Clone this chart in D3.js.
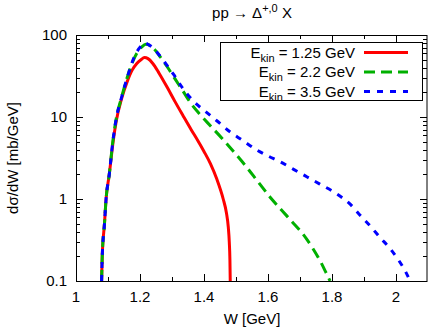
<!DOCTYPE html>
<html>
<head>
<meta charset="utf-8">
<script src="https://cdn.jsdelivr.net/npm/d3@7"></script>
<style>
  body { margin: 0; background: #fff; }
  text { font-family: "Liberation Sans", Arial, sans-serif; fill: #000; }
</style>
</head>
<body>
<div id="chart"></div>
<script>
// data ---------------------------------------------------------------------------------
var wRed   = [1.080,1.082,1.089,1.094,1.104,1.116,1.126,1.143,1.160,1.175,1.190,1.203,1.214,1.225,1.240,1.260,1.285,1.309,1.335,1.360,1.380,1.400,1.420,1.440,1.460,1.470,1.476,1.479,1.481,1.482];
var sRed   = [0.1,0.2,0.5,1.0,2.0,5,9,17,27,37,45,50,53,51.5,45,34,23,15.5,10.3,7.0,5.2,3.8,2.7,1.75,1.0,0.68,0.45,0.3,0.18,0.1];

var wGreen = [1.080,1.082,1.089,1.094,1.104,1.115,1.125,1.143,1.164,1.175,1.190,1.205,1.218,1.230,1.245,1.265,1.285,1.310,1.335,1.360,1.385,1.410,1.460,1.500,1.533,1.570,1.606,1.640,1.675,1.710,1.740,1.765,1.782,1.794];
var sGreen = [0.1,0.2,0.5,1.0,2.0,5,9.2,17.7,34,45,60,71,77,75,67,53,41,29,20.5,14.5,11,8.6,5.3,3.5,2.45,1.6,1.06,0.75,0.53,0.37,0.25,0.17,0.125,0.1];

var wBlue  = [1.080,1.082,1.089,1.094,1.104,1.115,1.125,1.143,1.164,1.174,1.190,1.203,1.214,1.225,1.240,1.260,1.280,1.305,1.335,1.367,1.408,1.440,1.481,1.520,1.565,1.600,1.6375,1.680,1.721,1.762,1.804,1.830,1.856,1.887,1.919,1.950,1.981,2.008,2.030,2.044];
var sBlue  = [0.1,0.2,0.5,1.0,2.0,5,9.2,17.7,34,45,62,73,80,77,70,57,45,33,22,15.6,11.4,9.0,6.6,5.2,3.96,3.35,2.85,2.3,1.87,1.52,1.23,1.05,0.87,0.64,0.47,0.34,0.25,0.18,0.13,0.1];

var seriesNames = ["1.25 GeV", "2.2 GeV", "3.5 GeV"];
var xTickLabels = [1, 1.2, 1.4, 1.6, 1.8, 2];
var yTickLabels = [0.1, 1, 10, 100];

// layout ----------------------------------------------------------------------------------
var width = 429, height = 332;
var pl = 76, pr = 428, pt = 35, pb = 281;

var svg = d3.select("#chart").append("svg")
  .attr("width", width)
  .attr("height", height);

var x = d3.scaleLinear().domain([1, 2.1]).range([pl, pr]);
var y = d3.scaleLog().domain([0.1, 100]).range([pb, pt]);

svg.append("clipPath").attr("id", "clip")
  .append("rect")
  .attr("x", pl).attr("y", pt)
  .attr("width", pr - pl).attr("height", pb - pt);

// ticks (inward, mirrored like gnuplot)
var ticks = svg.append("g").attr("stroke", "#000").attr("stroke-width", 1);

var xMinor = d3.range(11).map(function(i){ return 1 + i * 0.1; });
xMinor.forEach(function(v){
  var major = xTickLabels.some(function(t){ return Math.abs(t - v) < 1e-6; });
  var len = major ? 7 : 4;
  var px = Math.round(x(v)) + 0.5;
  ticks.append("line").attr("x1", px).attr("x2", px).attr("y1", pb).attr("y2", pb - len);
  ticks.append("line").attr("x1", px).attr("x2", px).attr("y1", pt).attr("y2", pt + len);
});

var yAll = [];
[0.1, 1, 10].forEach(function(d){
  for (var k = 1; k <= 9; k++) yAll.push(d * k);
});
yAll.push(100);
yAll.forEach(function(v){
  var major = yTickLabels.some(function(t){ return Math.abs(t - v) < 1e-9; });
  var len = major ? 7 : 4;
  var py = Math.round(y(v)) + 0.5;
  ticks.append("line").attr("x1", pl).attr("x2", pl + len).attr("y1", py).attr("y2", py);
  ticks.append("line").attr("x1", pr - 1).attr("x2", pr - 1 - len).attr("y1", py).attr("y2", py);
});

// tick labels
svg.append("g").selectAll("text")
  .data(xTickLabels)
  .enter().append("text")
    .attr("x", function(d){ return x(d); })
    .attr("y", 302)
    .attr("text-anchor", "middle")
    .attr("font-size", "15px")
    .text(function(d){ return d; });

svg.append("g").selectAll("text")
  .data(yTickLabels)
  .enter().append("text")
    .attr("x", 67)
    .attr("y", function(d){ return y(d); })
    .attr("dy", "0.36em")
    .attr("text-anchor", "end")
    .attr("font-size", "15px")
    .text(function(d){ return d; });

// axis titles
svg.append("text")
  .attr("x", (pl + pr) / 2)
  .attr("y", 324)
  .attr("text-anchor", "middle")
  .attr("font-size", "15px")
  .text("W [GeV]");

svg.append("text")
  .attr("transform", "translate(18," + ((pt + pb) / 2) + ") rotate(-90)")
  .attr("text-anchor", "middle")
  .attr("font-size", "15px")
  .text("dσ/dW [mb/GeV]");

var title = svg.append("text")
  .attr("x", (pl + pr) / 2)
  .attr("y", 18)
  .attr("text-anchor", "middle")
  .attr("font-size", "15px");
title.append("tspan").text("pp → Δ");
title.append("tspan").attr("font-size", "11px").attr("dy", -6).text("+,0");
title.append("tspan").attr("dy", 6).text(" X");

// curves
var styles = [
  {w: wRed,   s: sRed,   color: "#ff0000", dash: null},
  {w: wGreen, s: sGreen, color: "#00b000", dash: "11,6"},
  {w: wBlue,  s: sBlue,  color: "#0000ff", dash: "6,7"}
];

var line = d3.line()
  .x(function(d){ return x(d[0]); })
  .y(function(d){ return y(d[1]); })
  .curve(d3.curveMonotoneX);

var plot = svg.append("g").attr("clip-path", "url(#clip)");
styles.forEach(function(st){
  var pts = st.w.map(function(w, i){ return [w, st.s[i]]; });
  plot.append("path")
    .datum(pts)
    .attr("d", line)
    .attr("fill", "none")
    .attr("stroke", st.color)
    .attr("stroke-width", 3)
    .attr("stroke-dasharray", st.dash);
});

// frame
svg.append("rect")
  .attr("x", pl + 0.5).attr("y", pt + 0.5)
  .attr("width", pr - pl - 1.5).attr("height", pb - pt)
  .attr("fill", "none")
  .attr("stroke", "#000")
  .attr("stroke-width", 1);

// legend
var lg = svg.append("g");
lg.append("rect")
  .attr("x", 220.5).attr("y", 42.5)
  .attr("width", 202).attr("height", 58)
  .attr("fill", "#fff")
  .attr("stroke", "#000");

styles.forEach(function(st, i){
  var cy = 52.5 + i * 19.5;
  var t = lg.append("text")
    .attr("x", 355)
    .attr("y", cy + 5)
    .attr("text-anchor", "end")
    .attr("font-size", "15px");
  t.append("tspan").text("E");
  t.append("tspan").attr("font-size", "11px").attr("dy", 4).text("kin");
  t.append("tspan").attr("dy", -4).text(" = " + seriesNames[i]);

  lg.append("line")
    .attr("x1", 364).attr("x2", 408)
    .attr("y1", cy).attr("y2", cy)
    .attr("stroke", st.color)
    .attr("stroke-width", 3)
    .attr("stroke-dasharray", st.dash);
});
</script>
</body>
</html>
